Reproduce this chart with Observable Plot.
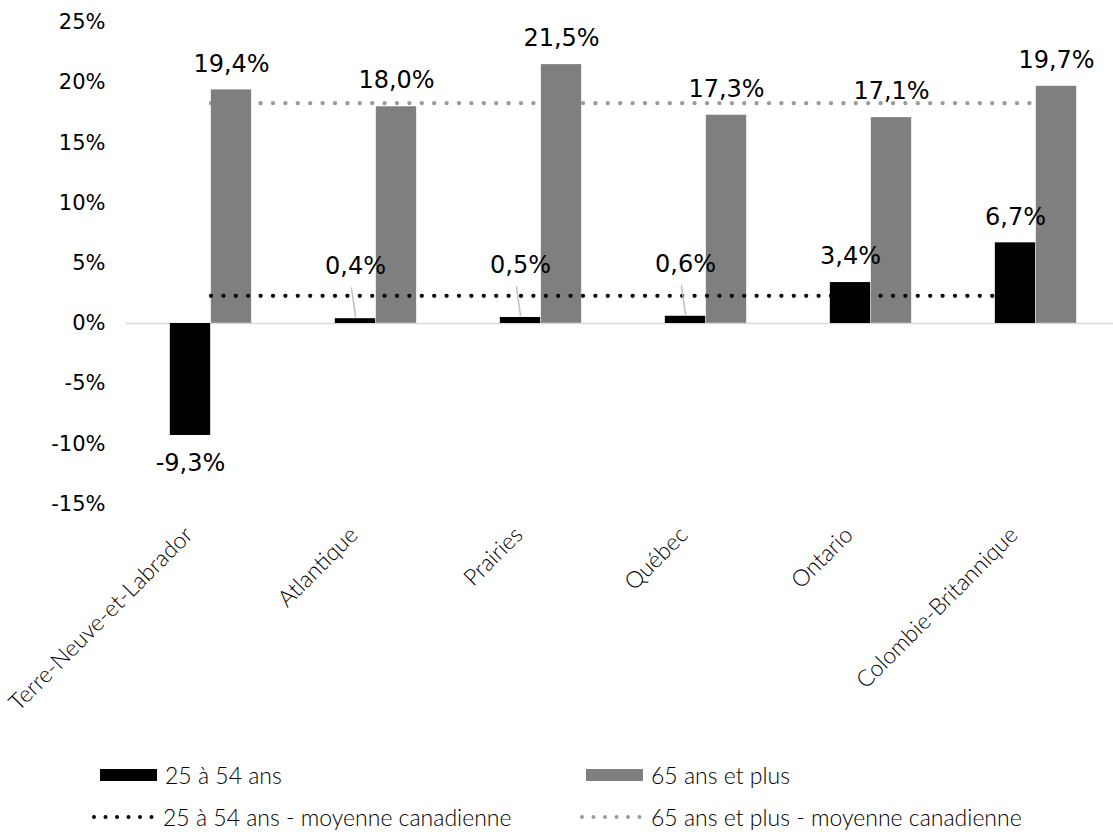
<!DOCTYPE html>
<html><head><meta charset="utf-8">
<script src="https://cdn.jsdelivr.net/npm/d3@7"></script>
<script src="https://cdn.jsdelivr.net/npm/@observablehq/plot@0.6"></script>
<style>
body{margin:0;background:#fff;}
#chart{position:relative;width:1113px;height:832px;overflow:hidden;}
#chart > svg.main{position:absolute;left:0;top:0;overflow:visible;}
.leg{position:absolute;height:30px;font-family:Lato;font-weight:300;font-size:23px;color:#000;display:flex;align-items:center;white-space:nowrap;}
.leg svg.sw{margin-right:8px;display:block;flex:none;}
</style></head><body><div id="chart"></div>
<script>
const categories = ["Terre-Neuve-et-Labrador","Atlantique","Prairies","Québec","Ontario","Colombie-Britannique"];
const values2554 = [-9.3, 0.4, 0.5, 0.6, 3.4, 6.7];
const values65 = [19.4, 18.0, 21.5, 17.3, 17.1, 19.7];
const avg2554 = 2.3;
const avg65 = 18.3;
const yTicks = [-15, -10, -5, 0, 5, 10, 15, 20, 25];
const seriesNames = ["25 à 54 ans", "65 ans et plus", "25 à 54 ans - moyenne canadienne", "65 ans et plus - moyenne canadienne"];
const seriesColors = ["#000000", "#7f7f7f", "#000000", "#9a9a9a"];

const rows1 = categories.map((c, i) => ({cat: c, v: values2554[i]}));
const rows2 = categories.map((c, i) => ({cat: c, v: values65[i]}));
const fmt = v => v.toFixed(1).replace(".", ",") + "%";

const W = 1113, H = 740, mL = 126, mT = 22, mB = 236.4;
const x0 = 126, x1 = 1120;
const bw = (x1 - x0) / categories.length;
const barW = 41;
const lineShape = {draw(ctx, l) { ctx.moveTo(0, 0); ctx.lineTo(0, -l); }};

const plot = Plot.plot({
  width: W, height: H,
  marginLeft: mL, marginRight: 0, marginTop: mT, marginBottom: mB,
  className: "main",
  style: {fontFamily: "DejaVu Sans", background: "transparent", color: "#000", overflow: "visible"},
  x: {domain: categories, range: [x0, x1], padding: 0, axis: null},
  y: {domain: [-15, 25], axis: null},
  marks: [
    Plot.axisY({ticks: yTicks, tickSize: 0, tickPadding: 21, tickFormat: d => d + "%", fontSize: 21, label: null}),
    Plot.text(categories, {x: d => d, frameAnchor: "bottom", dy: 27, dx: -22, rotate: -45, textAnchor: "end", lineAnchor: "middle", fontSize: 23, fontFamily: "Lato", fontWeight: 300, fill: "#000"}),
    Plot.lineY(categories, {x: d => d, y: () => avg65, stroke: seriesColors[3], strokeWidth: 4.3, strokeDasharray: "0,12.4", strokeLinecap: "round"}),
    Plot.barY(rows2, {x: "cat", y: "v", fill: seriesColors[1], insetLeft: bw / 2, insetRight: bw / 2 - barW}),
    Plot.ruleY([0], {stroke: "#d9d9d9", strokeWidth: 1.5}),
    Plot.lineY(categories, {x: d => d, y: () => avg2554, stroke: seriesColors[2], strokeWidth: 4.3, strokeDasharray: "0,12.4", strokeLinecap: "round"}),
    Plot.barY(rows1, {x: "cat", y: "v", fill: seriesColors[0], insetLeft: bw / 2 - barW, insetRight: bw / 2}),
    Plot.vector(rows1.filter(d => d.v >= 0 && d.v < 1), {x: "cat", y: "v", dx: -barW / 2, dy: -2, length: 29, rotate: -8, anchor: "start", stroke: "#bfbfbf", strokeWidth: 1.5, shape: lineShape}),
    Plot.text(rows2, {x: "cat", y: "v", text: d => fmt(d.v), dx: barW / 2, dy: -26, fontSize: 24, fill: "#000"}),
    Plot.text(rows1.filter(d => d.v >= 1), {x: "cat", y: "v", text: d => fmt(d.v), dx: -barW / 2, dy: -26, fontSize: 24, fill: "#000"}),
    Plot.text(rows1.filter(d => d.v >= 0 && d.v < 1), {x: "cat", y: "v", text: d => fmt(d.v), dx: -barW / 2, dy: -52, fontSize: 24, fill: "#000"}),
    Plot.text(rows1.filter(d => d.v < 0), {x: "cat", y: "v", text: d => fmt(d.v), dx: -barW / 2, dy: 28, fontSize: 24, fill: "#000"})
  ]
});
const chart = document.getElementById("chart");
chart.appendChild(plot);

function legendItem(name, color, dotted, left, top) {
  const d = document.createElement("div");
  d.className = "leg";
  d.style.left = left + "px";
  d.style.top = top + "px";
  const ns = "http://www.w3.org/2000/svg";
  const s = document.createElementNS(ns, "svg");
  s.setAttribute("class", "sw");
  s.setAttribute("width", dotted ? 63 : 57);
  s.setAttribute("height", 12);
  if (dotted) {
    const l = document.createElementNS(ns, "line");
    l.setAttribute("x1", 2); l.setAttribute("x2", 61);
    l.setAttribute("y1", 6); l.setAttribute("y2", 6);
    l.setAttribute("stroke", color);
    l.setAttribute("stroke-width", 4);
    l.setAttribute("stroke-linecap", "round");
    l.setAttribute("stroke-dasharray", "0,11.5");
    s.appendChild(l);
  } else {
    const r = document.createElementNS(ns, "rect");
    r.setAttribute("x", 0); r.setAttribute("y", 0);
    r.setAttribute("width", 57); r.setAttribute("height", 12);
    r.setAttribute("fill", color);
    s.appendChild(r);
  }
  d.appendChild(s);
  const t = document.createElement("span");
  t.textContent = name;
  d.appendChild(t);
  chart.appendChild(d);
}
legendItem(seriesNames[0], seriesColors[0], false, 100, 760);
legendItem(seriesNames[1], seriesColors[1], false, 586, 760);
legendItem(seriesNames[2], seriesColors[2], true, 92, 802);
legendItem(seriesNames[3], seriesColors[3], true, 580, 802);
</script></body></html>
